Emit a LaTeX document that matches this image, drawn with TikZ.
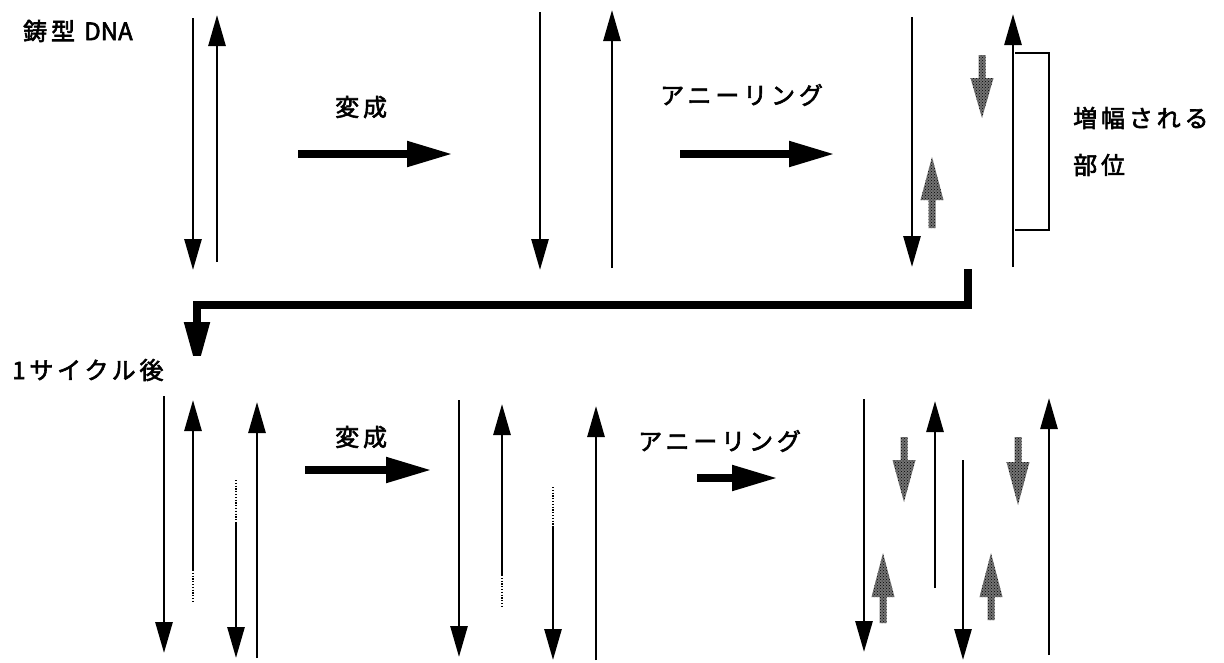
\documentclass[tikz,border=0pt]{standalone}
\usepackage{fontspec}
\newfontfamily\jpfont[LetterSpace=16,FakeBold=2.5]{Noto Sans CJK JP}
\newfontfamily\jplatin[FakeBold=2.5]{Noto Sans CJK JP}
\usetikzlibrary{arrows.meta, patterns}

% one gray primer: x, tail y, head base y, tip y
\newcommand{\primerarrow}[4]{%
  \path[primer] (#1-3.5,#2) -- (#1-3.5,#3) -- (#1-11.5,#3) -- (#1,#4)
    -- (#1+11.5,#3) -- (#1+3.5,#3) -- (#1+3.5,#2) -- cycle;
}

\begin{document}
\begin{tikzpicture}[
    x=1pt, y=-1pt,
    strand/.style={
        line width=2.8pt,
        -{Triangle[length=31pt,width=17pt]}
    },
    plainstrand/.style={
        line width=2.8pt
    },
    dotpart/.style={
        line width=2.2pt,
        dash pattern=on 1.2pt off 1.6pt
    },
    procarrow/.style={
        line width=8pt,
        -{Triangle[length=46pt,width=24pt]}
    },
    jptext/.style={
        font=\jpfont\fontsize{24}{28}\selectfont,
        inner sep=0pt,
        anchor=west
    },
    bracket/.style={
        line width=2pt
    },
    primer/.style={
        preaction={fill=black!55},
        pattern=crosshatch dots
    }
]
\useasboundingbox (0,0) rectangle (1224,662);

% labels
\node[jptext] (template) at (23,31) {鋳型 {\jplatin DNA}};
\node[jptext] (denat1) at (335,107) {変成};
\node[jptext] (anneal1) at (660,95) {アニーリング};
\node[jptext] (amp1) at (1073,118) {増幅される};
\node[jptext] (amp2) at (1073,165) {部位};
\node[jptext] (cycle) at (12,370) {1サイクル後};
\node[jptext] (denat2) at (335,437) {変成};
\node[jptext] (anneal2) at (638,441) {アニーリング};

% process arrows
\coordinate (d1s) at (298,154);
\coordinate (d1e) at (453,154);
\coordinate (a1s) at (680,154);
\coordinate (a1e) at (835,154);
\coordinate (d2s) at (305,470);
\coordinate (d2e) at (432,470);
\coordinate (a2s) at (697,478);
\coordinate (a2e) at (778,478);
\draw[procarrow] (d1s) -- (d1e);
\draw[procarrow] (a1s) -- (a1e);
\draw[procarrow] (d2s) -- (d2e);
\draw[procarrow] (a2s) -- (a2e);

% next cycle
\coordinate (turnA) at (968,269);
\coordinate (turnB) at (197,372);
\draw[line width=8pt, miter limit=2,
      -{Triangle[length=50pt,width=24pt]}]
    (turnA) -- (968,305) -- (197,305) -- (turnB);

% template DNA
\draw[strand] (193,18) -- (193,270);
\draw[strand] (217,262) -- (217,15);

% after denaturation
\draw[strand] (540,12) -- (540,270);
\draw[strand] (612,268) -- (612,10);

% after annealing
\draw[strand] (912,17) -- (912,267);
\draw[strand] (1013,267) -- (1013,14);
\primerarrow{982}{55}{78}{118}
\primerarrow{932}{228}{200}{157}
\draw[bracket] (1015,53) -- (1049,53) -- (1049,230) -- (1015,230);

% 1 cycle later
\draw[strand] (164,396) -- (164,653);
\draw[strand] (193,570) -- (193,400);
\draw[dotpart] (193,570) -- (193,602);
\draw[strand] (236,523) -- (236,658);
\draw[dotpart] (236,480) -- (236,523);
\draw[plainstrand] (257,658) -- (257,430);
\draw[strand] (257,440) -- (257,402);

% after denaturation
\draw[strand] (459,400) -- (459,657);
\draw[strand] (502,575) -- (502,404);
\draw[dotpart] (502,575) -- (502,607);
\draw[strand] (553,527) -- (553,660);
\draw[dotpart] (553,487) -- (553,527);
\draw[strand] (596,660) -- (596,406);

% after annealing
\draw[strand] (864,399) -- (864,652);
\draw[strand] (935,588) -- (935,401);
\draw[strand] (963,460) -- (963,660);
\draw[strand] (1049,655) -- (1049,398);
\primerarrow{904}{437}{460}{502}
\primerarrow{883}{623}{597}{553}
\primerarrow{1018}{437}{462}{505}
\primerarrow{991}{620}{597}{553}

\end{tikzpicture}
\end{document}
